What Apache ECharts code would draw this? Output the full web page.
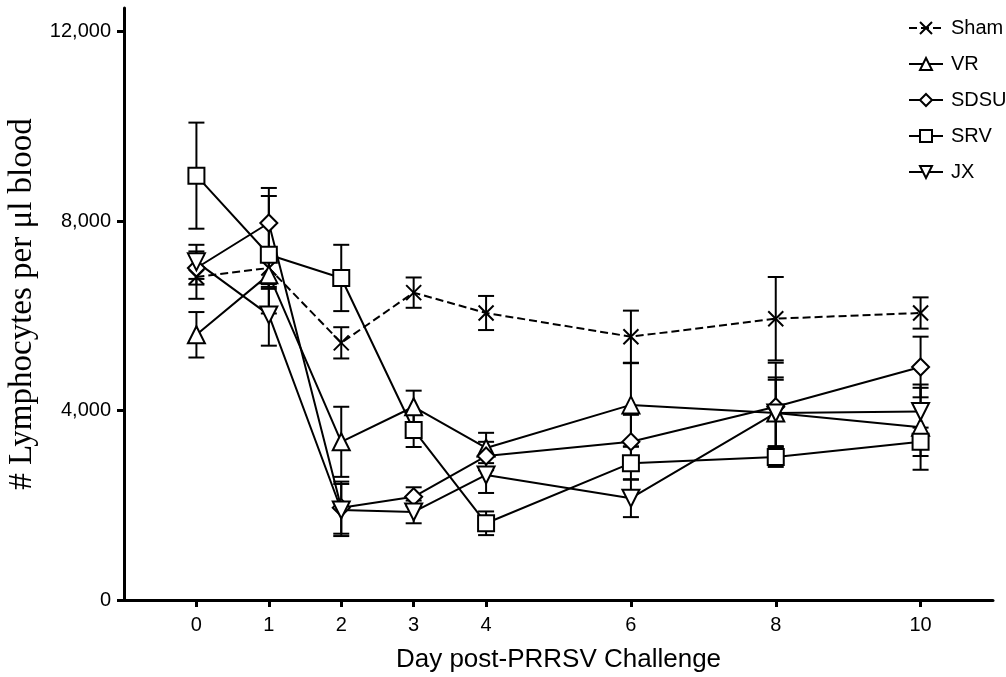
<!DOCTYPE html>
<html>
<head>
<meta charset="utf-8">
<script src="https://cdn.jsdelivr.net/npm/echarts@6/dist/echarts.min.js"></script>
<style>
html,body{margin:0;padding:0;background:#fff;}
#chart{width:1006px;height:677px;}
</style>
</head>
<body>
<div id="chart"></div>
<script>
const days = [0, 1, 2, 3, 4, 6, 8, 10];
const xTicks = [0, 1, 2, 3, 4, 6, 8, 10];
const yTicks = [0, 4000, 8000, 12000];

const sham    = [6820, 7010, 5430, 6490, 6060, 5560, 5940, 6060];
const shamErr = [460, 400, 330, 320, 360, 550, 880, 330];
const vr      = [5600, 6870, 3340, 4080, 3210, 4120, 3950, 3650];
const vrErr   = [480, 300, 740, 340, 320, 880, 750, 900];
const sdsu    = [7010, 7960, 1950, 2180, 3040, 3340, 4080, 4920];
const sdsuErr = [350, 740, 550, 200, 300, 570, 930, 640];
const srv     = [8960, 7290, 6800, 3590, 1620, 2890, 3020, 3340];
const srvErr  = [1120, 1240, 700, 360, 250, 350, 210, 300];
const jx      = [7140, 6020, 1900, 1860, 2640, 2150, 3950, 3980];
const jxErr   = [360, 650, 550, 240, 380, 400, 700, 500];

const groups = [
  {name: 'Sham', vals: sham, errs: shamErr, symbol: 'path://M0,0L10,10M10,0L0,10', size: 15, rot: 0, dash: 'dashed', fill: 'none'},
  {name: 'VR', vals: vr, errs: vrErr, symbol: 'triangle', size: 17, rot: 0, dash: 'solid', fill: '#fff'},
  {name: 'SDSU', vals: sdsu, errs: sdsuErr, symbol: 'diamond', size: 17, rot: 0, dash: 'solid', fill: '#fff'},
  {name: 'SRV', vals: srv, errs: srvErr, symbol: 'rect', size: 16, rot: 0, dash: 'solid', fill: '#fff'},
  {name: 'JX', vals: jx, errs: jxErr, symbol: 'triangle', size: 17, rot: 180, dash: 'solid', fill: '#fff'}
];

const FONT = '"Liberation Sans", Arial, sans-serif';
const series = [];

groups.forEach(function (g) {
  const errData = days.map(function (d, i) { return [d, g.vals[i] - g.errs[i], g.vals[i] + g.errs[i]]; });
  series.push({
    type: 'custom',
    name: g.name + ' err',
    data: errData,
    z: 1,
    silent: true,
    renderItem: function (params, api) {
      const x = api.value(0);
      const lo = api.coord([x, api.value(1)]);
      const hi = api.coord([x, api.value(2)]);
      const hw = 8;
      const st = {stroke: '#000', lineWidth: 2};
      return {
        type: 'group',
        children: [
          {type: 'line', shape: {x1: lo[0], y1: lo[1], x2: hi[0], y2: hi[1]}, style: st},
          {type: 'line', shape: {x1: lo[0] - hw, y1: lo[1], x2: lo[0] + hw, y2: lo[1]}, style: st},
          {type: 'line', shape: {x1: hi[0] - hw, y1: hi[1], x2: hi[0] + hw, y2: hi[1]}, style: st}
        ]
      };
    }
  });
  series.push({
    type: 'line',
    name: g.name,
    data: days.map(function (d, i) { return [d, g.vals[i]]; }),
    z: 3,
    symbol: g.symbol,
    symbolSize: g.size,
    symbolRotate: g.rot,
    showAllSymbol: true,
    lineStyle: {color: '#000', width: 2, type: g.dash},
    itemStyle: {color: g.fill, borderColor: '#000', borderWidth: 2},
    emphasis: {disabled: true},
    animation: false
  });
});

const chart = echarts.init(document.getElementById('chart'), null, {renderer: 'canvas'});
chart.setOption({
  animation: false,
  backgroundColor: '#fff',
  grid: {left: 124, right: 13, top: 8, bottom: 77, containLabel: false, outerBoundsMode: 'none'},
  legend: {
    data: groups.map(function (g) { return g.name; }),
    orient: 'vertical',
    left: 903,
    top: 13,
    itemWidth: 34,
    itemHeight: 15,
    itemGap: 16,
    textStyle: {fontFamily: FONT, fontSize: 20, color: '#000', padding: [0, 0, 0, 3]},
    selectedMode: false
  },
  xAxis: {
    type: 'value',
    min: -1,
    max: 11,
    name: 'Day post-PRRSV Challenge',
    nameLocation: 'middle',
    nameGap: 47,
    nameTextStyle: {fontFamily: FONT, fontSize: 26, color: '#000'},
    axisLine: {show: true, onZero: false, lineStyle: {color: '#000', width: 3}},
    axisTick: {show: true, length: 7, lineStyle: {color: '#000', width: 3}, customValues: xTicks},
    axisLabel: {fontFamily: FONT, fontSize: 20, color: '#000', margin: 15, customValues: xTicks},
    splitLine: {show: false}
  },
  yAxis: {
    type: 'value',
    min: 0,
    max: 12500,
    name: '# Lymphocytes per μl blood',
    nameLocation: 'middle',
    nameGap: 84,
    nameRotate: 90,
    nameTextStyle: {fontFamily: '"Liberation Serif", "Times New Roman", serif', fontSize: 33, color: '#000'},
    axisLine: {show: true, onZero: false, lineStyle: {color: '#000', width: 3}},
    axisTick: {show: true, length: 7, lineStyle: {color: '#000', width: 3}, customValues: yTicks},
    axisLabel: {
      fontFamily: FONT, fontSize: 20, color: '#000', margin: 13, customValues: yTicks,
      formatter: function (v) { return v.toLocaleString('en-US'); }
    },
    splitLine: {show: false}
  },
  series: series
});
</script>
</body>
</html>
